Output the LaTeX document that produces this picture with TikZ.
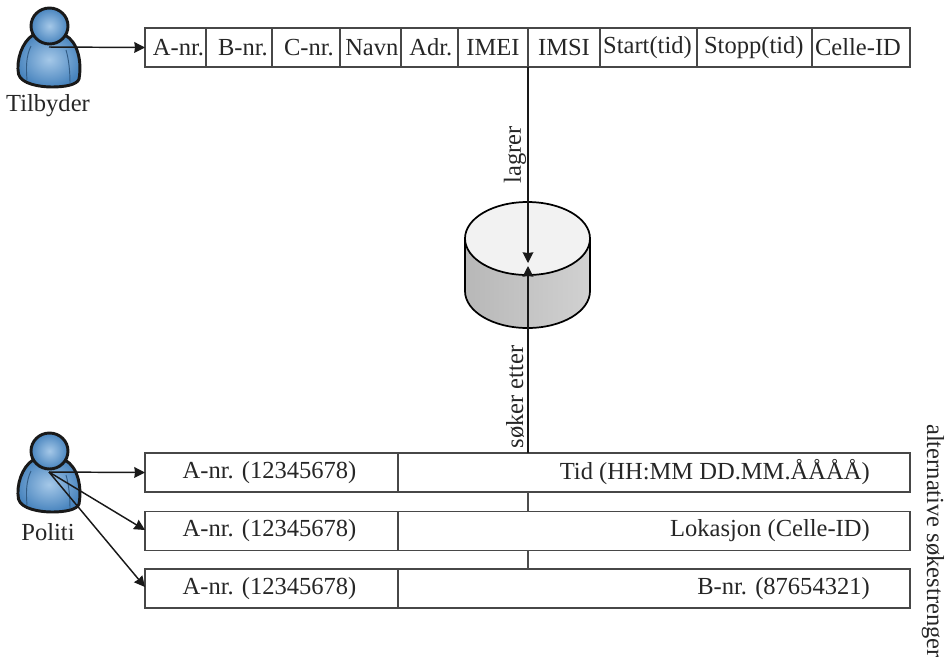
\documentclass[tikz,border=0pt]{standalone}
\usepackage{fontspec}
\setmainfont{Liberation Serif}
\usetikzlibrary{arrows.meta,calc}
\definecolor{pin}{RGB}{165,200,232}
\definecolor{pout}{RGB}{72,132,190}
\tikzset{
  px/.style={x=0.75pt,y=-0.75pt},
  cell/.style={draw=black!72,line width=0.8pt,inner sep=0pt,outer sep=0pt,minimum height=29.25pt,font=\fontsize{18.4}{20}\selectfont,anchor=west,text=black!85},
  lbl/.style={font=\fontsize{18.4}{20}\selectfont,inner sep=0pt,text=black!85},
  conn/.style={draw=black!90,line width=1.1pt,-{Stealth[inset=0.5pt,length=8pt,width=8pt]}},
  plain/.style={draw=black!70,line width=0.8pt},
  personline/.style={draw=black!90,line width=2.2pt,line join=round},
  pics/person/.style={code={
    \path[personline,inner color=pin,outer color=pout,shading=radial]
      (33,35) .. controls (22,42) and (16,60) .. (18.5,74)
      .. controls (21,84) and (40,87) .. (52,87)
      .. controls (64,87) and (77,85) .. (79,79)
      .. controls (82,62) and (78,42) .. (65,35)
      .. controls (60,32) and (38,32) .. (33,35) -- cycle;
    \draw[draw=pout!70!black,line width=0.7pt] (31,46) .. controls (26,56) and (26,68) .. (27,80);
    \draw[draw=pout!70!black,line width=0.7pt] (66,50) .. controls (69,60) and (70,72) .. (70,84);
    \path[personline,inner color=pin,outer color=pout,shading=radial]
      (49.5,26) ellipse (18.5 and 18);
  }}
}
\begin{document}
\begin{tikzpicture}[px]
\useasboundingbox (0,0) rectangle (949,662);

% persons
\pic at (0,0) {person};
\pic at (0,425) {person};
\coordinate (tilbyderc) at (49,47);
\coordinate (politic) at (49,472);
\node[lbl] (tilbyder) at (48,106) {Tilbyder};
\node[lbl] (politi) at (48,532) {Politi};

% top record
\foreach \n/\xa/\xb/\o/\t in {a/145/206/4.5/A-nr.,b/206/272/6/B-nr.,c/272/340/4.5/C-nr.,d/340/401/2/Navn,e/401/458/2/Adr.,f/458/528/0/IMEI,g/528/600/0/IMSI,h/600/697/-1.5/Start(tid),i/697/812/-1/Stopp(tid),j/812/910/-4.5/Celle-ID}{
  \pgfmathsetmacro\w{(\xb-\xa)*0.75}
  \node[cell,minimum width=\w pt] (top\n) at (\xa,47.5) {\hspace*{\o pt}\t};
}

% database
\coordinate (dbtop) at (528,263);
\coordinate (dbbot) at (528,266);
\path[draw=black,line width=1.3pt,left color=black!28,middle color=black!13,right color=black!18]
  (465,238) -- (465,291) .. controls (465,311.4) and (493,328) .. (527.5,328)
  .. controls (562,328) and (590,311.4) .. (590,291) -- (590,238) -- cycle;
\path[draw=black,line width=1.3pt,fill=black!5]
  (527.5,238.5) ellipse (62.5 and 36.5);

% search rows
\foreach \n/\y/\t in {r/472.5/Tid (HH:MM DD.MM.ÅÅÅÅ),s/531/Lokasjon (Celle-ID),u/588.5/B-nr. (87654321)}{
  \node[cell,minimum width=189.75pt] (\n l) at (145,\y) {\hspace*{-3pt}A-nr. (12345678)};
  \node[cell,minimum width=384pt] (\n r) at (398,\y) {};
  \node[lbl,anchor=east] (\n t) at (870,\y) {\t};
}
\coordinate (ra) at (528,492);
\coordinate (rb) at (528,512);
\coordinate (rc) at (528,550);
\coordinate (rd) at (528,569);
\coordinate (re) at (528,453);
\coordinate (tb) at (528,67);
\coordinate (sw) at (145,530);
\coordinate (uw) at (145,587);
\draw[plain] (ra) -- (rb);
\draw[plain] (rc) -- (rd);

% connectors
\draw[conn] (tilbyderc) -- (topa.west);
\draw[conn] (politic) -- (rl.west);
\draw[conn] (politic) -- (sw);
\draw[conn] (politic) -- (uw);
\draw[conn] (tb) -- (dbtop);
\draw[conn] (re) -- (dbbot);

% labels
\node[lbl,rotate=90] (lagrer) at (515,155) {lagrer};
\node[lbl,rotate=90] (soker) at (515,397) {søker etter};
\node[lbl,rotate=-90] (alt) at (933,541) {alternative søkestrenger};
\end{tikzpicture}
\end{document}
